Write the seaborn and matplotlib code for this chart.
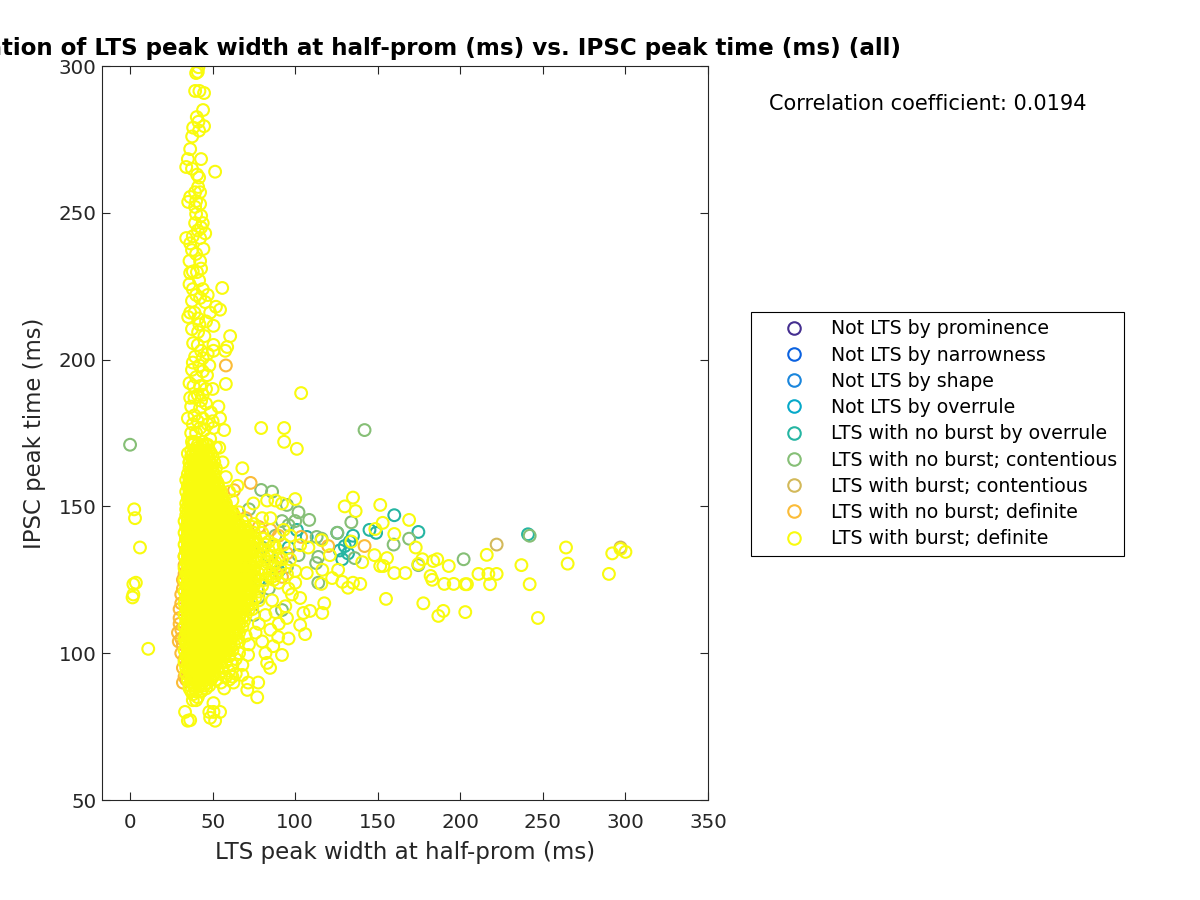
import matplotlib
matplotlib.use("Agg")
import matplotlib.pyplot as plt
import seaborn as sns
from matplotlib.lines import Line2D

sns.set_style("white")
plt.rcParams['font.family'] = ['DejaVu Sans']

title = "Correlation of LTS peak width at half-prom (ms) vs. IPSC peak time (ms) (all)"
xlabel = "LTS peak width at half-prom (ms)"
ylabel = "IPSC peak time (ms)"
corr_text = "Correlation coefficient: 0.0194"
x_ticks = [0, 50, 100, 150, 200, 250, 300, 350]
y_ticks = [50, 100, 150, 200, 250, 300]
class_names = ["Not LTS by prominence", "Not LTS by narrowness", "Not LTS by shape",
               "Not LTS by overrule", "LTS with no burst by overrule",
               "LTS with no burst; contentious", "LTS with burst; contentious",
               "LTS with no burst; definite", "LTS with burst; definite"]
class_colors = ["#452F90", "#0B62E0", "#1A86DC", "#06A9C9", "#25B5A2",
                "#86BF76", "#D3B95A", "#FBBC38", "#F9FB0E"]

teal_pts = [(160,147),(174.6,141.3),(145,142),(149,141),(125.5,141),(135,140),(130,136.5),(132,134),
            (128.5,132),(107,139.6),(101,142),(241,140.5),(133,138),(127,135),(90,128),(84,133),(78,125),(96,136)]
green_pts = [(0,171),(142,176),(79.4,155.6),(86,155),(95,150.5),(72,149),(102,148),(108.5,145.4),(100,145),
             (92,145),(96,143.6),(134,144.6),(125.5,141),(113,139.6),(116,139),(159.6,137),(169,139),(174.6,130),
             (136,132.4),(114,132.8),(112.7,130.7),(114,124),(102,133.4),(95,129.4),(92,114.7),(77.7,119),
             (202,132),(242,140),(88,140),(80,136),(70,129),(75,113),(84,122)]
tan_pts = [(222,137),(297,136)]
orange_pts = [(31,108),(30,112),(29,107),(29.5,104),(30,115),(31,120),(32,125),(33,130),(34,135),(31,100),
              (32,95),(33,92),(32,90),(34,91),(30,110),(31,117),(32,122),(33,127),(33,98),(32,103),(31,105),
              (34,139),(35,143),(33,133),(58,198),(73,158),(63,155.5),(58,150),(62,148),(66,143),(78,143),
              (85,142),(90,140),(75,138),(87,130),(142,136.5),(120,136.5),(103.6,139.6),(70,146),(95,134),(92,126)]

spine_pts = [(41.4,299.6),(41,298),(40,297.6),(39.4,291.5),(42,291.5),(44.8,290.8),(44.2,285),(40.4,282.6),
             (41.4,281),(44.8,279.5),(38.2,279),(41.8,278),(37.6,276),(36.4,271.7),(43,268.3),(35,268.3),
             (34,265.6),(51.5,264),(37.5,265),(40.6,263),(41.8,262),(41.2,258.8),(39.4,257),(36.4,255.4),
             (42.4,257),(35.2,253.7),(40,254),(42.4,253),(39.4,252),(40,249.6),(44,246.5),(39.4,246.5),
             (43,245),(45.5,243),(34,241.4),(36.4,239.6),(42.4,241.4),(44.4,237.7),(37.5,237.3),(42.4,233.6),
             (36,233.6),(36.4,229.5),(40.5,229.8),(41.8,227),(36,225.7),(55.8,224.4),(38,224),(42.4,221),
             (37.5,220),(45.5,219.6),(52,218),(54.5,217),(36.4,216),(35.2,214.5),(41.2,214),(48.5,216),
             (50.5,211.5),(37.5,210.4),(41.2,209.4),(60.6,208),(38.2,205.6),(50.5,205),(58.8,204.3),(41,205),
             (57.6,203),(50.5,203),(39.4,201),(44,200.5),(47,202),(37.5,196.5),(46.6,194.7),(42,198),(38.4,191),
             (42.4,191),(58,191.7),(50,190),(36.4,187),(39,187),(44,188),(53.5,184),(42.4,183.5),(46,185),
             (35,180),(39,181),(44,180),(54.5,180),(42.4,176.7),(50.5,176.7),(57,176),(37.5,172),(48.5,173),
             (40,175),(44,172),(35,168),(52,170),(47,178),(38,178),(41,170),(36,165),
             (40,194),(44,196),(36,192),(48,198),(41,188),(46,190),(37,184),(43,186),(49,182),(41,179),
             (45,176),(37,175),(50,179),(39,172),(46,171),(43,203),(38,199),(45,208),(42,212),(46,213),
             (39,216),(44,224),(40,222),(47,222),(38,230),(43,231),(40,236),(38,242),(41,244),(43,249)]

core_y = [87, 89, 91, 93, 95, 97, 99, 101, 103, 105, 107, 109, 111, 113, 115, 117, 119, 121, 123, 125,
          127, 129, 131, 133, 135, 137, 139, 141, 143, 145, 147, 149, 151, 153, 155, 157, 159, 161, 163,
          165, 167, 169, 171]
core_x = [
 [37, 40, 43],
 [36, 39, 42, 45, 48],
 [35, 37, 40, 43, 46, 49, 52],
 [34, 37, 39, 42, 45, 48, 51, 54],
 [34, 36, 39, 41, 44, 47, 50, 53, 56],
 [33, 36, 38, 41, 43, 46, 49, 52, 55, 58],
 [34, 36, 39, 41, 44, 46, 49, 51, 54, 57, 60],
 [33, 35, 38, 40, 43, 46, 48, 51, 53, 56, 59, 62],
 [34, 36, 39, 41, 44, 47, 49, 52, 54, 57, 60, 63],
 [33, 35, 38, 40, 43, 45, 48, 51, 53, 56, 58, 61, 65],
 [34, 36, 39, 41, 44, 46, 49, 52, 54, 57, 60, 63, 66],
 [33, 35, 38, 40, 43, 45, 48, 50, 53, 56, 58, 61, 64, 68],
 [34, 36, 39, 42, 44, 47, 49, 52, 54, 57, 60, 62, 65, 69],
 [33, 35, 38, 40, 43, 45, 48, 50, 53, 55, 58, 61, 63, 66, 70],
 [34, 36, 39, 41, 44, 47, 49, 52, 54, 57, 59, 62, 65, 68, 72],
 [33, 35, 38, 40, 43, 45, 48, 50, 53, 55, 58, 60, 63, 66, 70, 74],
 [34, 36, 39, 41, 44, 46, 49, 52, 54, 57, 59, 62, 64, 67, 71, 76],
 [33, 35, 38, 40, 43, 45, 48, 50, 53, 55, 58, 60, 63, 66, 69, 73, 78],
 [34, 36, 39, 41, 44, 46, 49, 51, 54, 56, 59, 62, 64, 67, 70, 75, 80],
 [33, 35, 38, 40, 43, 45, 48, 50, 53, 55, 58, 60, 63, 65, 68, 72, 76, 82, 87],
 [34, 36, 39, 41, 44, 46, 49, 51, 54, 56, 59, 61, 64, 66, 69, 73, 78, 84, 89],
 [33, 35, 38, 40, 43, 45, 48, 50, 53, 55, 58, 60, 63, 65, 68, 71, 75, 80, 86, 91],
 [34, 36, 39, 41, 44, 46, 49, 51, 54, 56, 59, 61, 64, 66, 69, 73, 77, 83, 88],
 [33, 35, 38, 40, 43, 45, 48, 50, 53, 55, 58, 60, 63, 65, 68, 71, 76, 81, 86, 90],
 [34, 36, 39, 41, 44, 46, 49, 51, 54, 56, 59, 61, 64, 67, 70, 74, 79, 84],
 [33, 35, 38, 40, 43, 45, 48, 50, 53, 55, 58, 60, 63, 66, 69, 73, 77, 82, 87],
 [34, 36, 39, 41, 44, 46, 49, 51, 54, 56, 59, 61, 65, 68, 72, 76, 81],
 [33, 35, 38, 40, 43, 45, 48, 50, 53, 55, 58, 61, 64, 67, 71, 75, 80],
 [34, 36, 39, 41, 44, 46, 49, 51, 54, 56, 59, 62, 66, 70, 74],
 [33, 35, 38, 40, 43, 45, 48, 50, 53, 55, 58, 61, 64, 68],
 [34, 36, 39, 41, 44, 46, 49, 51, 54, 57, 60, 63],
 [34, 36, 38, 41, 43, 46, 48, 51, 53, 56, 59],
 [34, 36, 39, 41, 44, 46, 49, 52, 55, 58],
 [35, 37, 40, 42, 45, 47, 50, 53, 56],
 [34, 36, 39, 41, 44, 46, 49, 52, 55],
 [35, 37, 40, 42, 45, 47, 50, 53],
 [34, 36, 39, 41, 44, 46, 49, 52],
 [35, 37, 40, 42, 45, 48, 51],
 [36, 39, 41, 44, 46, 49, 52],
 [36, 38, 40, 43, 45, 48, 51],
 [37, 39, 42, 44, 47, 50],
 [37, 40, 42, 45, 48],
 [38, 41, 44, 47],
]

core2_y = [90, 92, 94, 96, 98, 100, 102, 104, 106, 108, 110, 112, 114, 116, 118, 120, 122, 124, 126, 128,
           130, 132, 134, 136, 138, 140, 142, 144, 146, 148, 150, 152, 154, 156, 158, 160, 162, 164, 166, 168]
core2_x = [
 [38, 41, 44, 47],
 [37, 39, 42, 44, 47, 50],
 [36, 38, 41, 43, 46, 48, 51],
 [35, 38, 40, 42, 45, 47, 50, 52],
 [35, 37, 40, 42, 45, 47, 50, 52, 55],
 [35, 37, 40, 42, 45, 47, 50, 52, 55, 58],
 [35, 37, 40, 42, 45, 47, 50, 52, 55, 58, 61],
 [34, 37, 39, 42, 44, 47, 50, 52, 55, 58, 61],
 [35, 37, 40, 42, 45, 47, 50, 52, 55, 57, 60, 63],
 [35, 37, 40, 42, 45, 47, 50, 52, 55, 57, 60, 63, 65],
 [35, 37, 40, 42, 45, 47, 50, 52, 55, 57, 60, 63, 66],
 [35, 37, 40, 42, 45, 47, 50, 52, 55, 57, 60, 63, 66, 68],
 [35, 37, 40, 42, 45, 47, 50, 52, 55, 57, 60, 62, 65, 68],
 [35, 37, 40, 42, 45, 47, 50, 52, 55, 57, 60, 62, 65, 68, 71],
 [35, 37, 40, 42, 45, 47, 50, 52, 55, 57, 60, 62, 65, 67, 70, 73],
 [35, 37, 40, 42, 45, 47, 50, 52, 55, 57, 60, 62, 65, 67, 70, 73],
 [35, 37, 40, 42, 45, 47, 50, 52, 55, 57, 60, 62, 65, 67, 70, 73],
 [35, 37, 40, 42, 45, 47, 50, 52, 55, 57, 60, 62, 65, 67, 70, 72, 75],
 [35, 37, 40, 42, 45, 47, 50, 52, 55, 57, 60, 62, 65, 67, 70, 72, 75],
 [35, 37, 40, 42, 45, 47, 50, 52, 55, 57, 60, 62, 65, 67, 70, 72, 75],
 [35, 37, 40, 42, 45, 47, 50, 52, 55, 57, 60, 62, 65, 67, 70, 73],
 [35, 37, 40, 42, 45, 47, 50, 52, 55, 57, 60, 62, 65, 67, 70, 73],
 [35, 37, 40, 42, 45, 47, 50, 52, 55, 57, 60, 62, 65, 67, 70, 73],
 [35, 37, 40, 42, 45, 47, 50, 52, 55, 57, 60, 62, 65, 67, 71, 75],
 [35, 37, 40, 42, 45, 47, 50, 52, 55, 57, 60, 62, 65, 68, 72, 75],
 [35, 37, 40, 42, 45, 47, 50, 52, 55, 57, 60, 63, 66, 69, 72],
 [35, 37, 40, 42, 45, 47, 50, 52, 55, 57, 60, 63, 66, 69],
 [35, 37, 40, 42, 45, 47, 50, 52, 55, 57, 60, 63, 66],
 [35, 37, 40, 42, 45, 47, 50, 52, 55, 58, 61, 64],
 [35, 37, 40, 42, 45, 47, 50, 52, 55, 58, 61],
 [35, 37, 40, 42, 45, 47, 50, 52, 55, 58],
 [36, 38, 41, 43, 46, 48, 51, 53, 56],
 [36, 38, 41, 43, 46, 48, 51, 54],
 [36, 38, 41, 43, 46, 48, 51, 54],
 [36, 38, 41, 43, 46, 48, 51, 53],
 [36, 38, 41, 43, 46, 48, 51],
 [37, 39, 42, 44, 47, 50],
 [37, 39, 42, 44, 47, 50],
 [38, 40, 43, 45, 48],
 [38, 40, 43, 46, 49],
]

outer_yellow_pts = [(1.5,119),(2,120),(2,123.5),(3.5,124),(3,146),(2.5,149),(6,136),(11,101.5),
    (300,134.5),(292,134),(297,135.5),(290,127),(265,130.5),(264,136),(247,112),(242,123.5),(237,130),(222,127),
    (218,123.5),(216,133.5),(217,127),(211,127),(204,123.5),(203,123.5),(203,114),(196,123.6),(190.3,123.6),
    (193,129.7),(186,132),(183.6,131.4),(186.7,112.7),(189.7,114.4),(177.6,117),(182,126.3),(183,125),(174.6,130.4),
    (177,132),(166.7,127.3),(160,127.3),(160,140.6),(173,136),(169,145.4),(155,118.5),(155.6,132.4),(153.4,129.7),
    (151.5,129.7),(153,144.4),(148.5,142.3),(151.5,150.5),(135,153),(130,150),(136.6,148.4),(134,138),(140.6,131),
    (139.4,123.6),(135,124),(132,122.3),(128.5,124.3),(148,133.4),(126,128.4),(121,133.4),(122.4,125.6),
    (116.4,128.4),(115.8,123.6),(117.6,117),(116.4,113.7),(116,138.5),(108,136),(103,136.8),(107,127.3),
    (106,106.5),(109,114.4),(105,113.7),(103,118.8),(103,109.6),(100,124),(95,112),(92,99.4),(84.8,95),(83,96.7),
    (71.5,99.4),(82,100),(86.7,102.4),(89.7,105.5),(103.6,188.6),(79.4,176.7),(93.3,176.7),(93.3,172),(101,169.6),
    (68,163),(100,152.5),(74.7,151),(83,152),(88,152),(92,151),(77,85),(71,87.5),(77.6,90),(71.5,90),(68,92.6),
    (62.6,90),(36.4,77.2),(35,77),(33.3,80),(50.5,83),(51.5,77),(48.5,78),(54.5,80),(48,80),(50.5,80),(38,84),
    (96,105),(98,120),(94,116),(90,110),(85,108),(80,104),(76,107),(72,103),(68,96),(64,93),(60,91),(57,88),
    (100,128),(97,132),(93,137),(90,124),(86,118),(82,113),(78,110),(74,115),(72,120),(78,118),(86,126),(92,132),
    (95,127),(97,140),(93,142),(85,146),(80,146),(75,144),(70,142),(66,148),(62,152),(84,138),(88,136),(78,132),
    (82,128),(74,136),(70,134),(96,122),(88,114),(65,157),(60,155),(58,160),(56,165),(54,170),
    (38,86),(41,85),(43,87),(36,88),(39,88),(46,88),(40,84),(55,90),(58,92),(60,94),(62,96),(64,98),(66,100),
    (62,92),(66,104),(70,106)]

burst_def_pts = (spine_pts + outer_yellow_pts
                 + [(x, y) for y, row in zip(core_y, core_x) for x in row]
                 + [(x, y) for y, row in zip(core2_y, core2_x) for x in row])

fig = plt.figure(figsize=(12, 9), dpi=100)
ax = fig.add_axes([102/1200, 100/900, 606/1200, 734/900])

series = [(teal_pts, class_colors[4]), (green_pts, class_colors[5]), (tan_pts, class_colors[6]),
          (orange_pts, class_colors[7]), (burst_def_pts, class_colors[8])]
for pts, col in series:
    sns.scatterplot(x=[p[0] for p in pts], y=[p[1] for p in pts], s=72, marker="o",
                    facecolors="none", edgecolor=col, linewidth=1.5, ax=ax, clip_on=True)

ax.set_xlim(-17, 350)
ax.set_ylim(50, 300)
ax.set_xticks(x_ticks)
ax.set_yticks(y_ticks)
ax.tick_params(direction="in", length=6, width=0.8, top=True, right=True, labelsize=14.3,
               colors="#262626", bottom=True, left=True)
ax.tick_params(axis="x", pad=9)
ax.tick_params(axis="y", pad=4)
for sp in ax.spines.values():
    sp.set_visible(True)
    sp.set_color("#262626")
    sp.set_linewidth(0.8)
ax.set_xlabel(xlabel, fontsize=16.6, color="#262626", labelpad=7)
ax.set_ylabel(ylabel, fontsize=16.4, color="#262626", labelpad=9)
ax.set_title(title, fontsize=16.6, fontweight="bold", color="black", pad=8)
fig.text(769/1200, 1 - 104/900, corr_text, fontsize=15, color="black", va="center", ha="left")

handles = [Line2D([], [], linestyle="none", marker="o", markersize=9, markerfacecolor="none",
                  markeredgecolor=c, markeredgewidth=1.5, label=n)
           for n, c in zip(class_names, class_colors)]
leg = ax.legend(handles=handles, loc="upper left", bbox_to_anchor=(751/1200, 1 - 312/900),
                bbox_transform=fig.transFigure, fontsize=13.6, frameon=True, fancybox=False,
                edgecolor="black", framealpha=1, borderaxespad=0, labelspacing=0.384,
                handletextpad=0.065, borderpad=0.385, handlelength=3.78, labelcolor="black")
leg.get_frame().set_linewidth(0.8)

fig.savefig("out.png", dpi=100)
